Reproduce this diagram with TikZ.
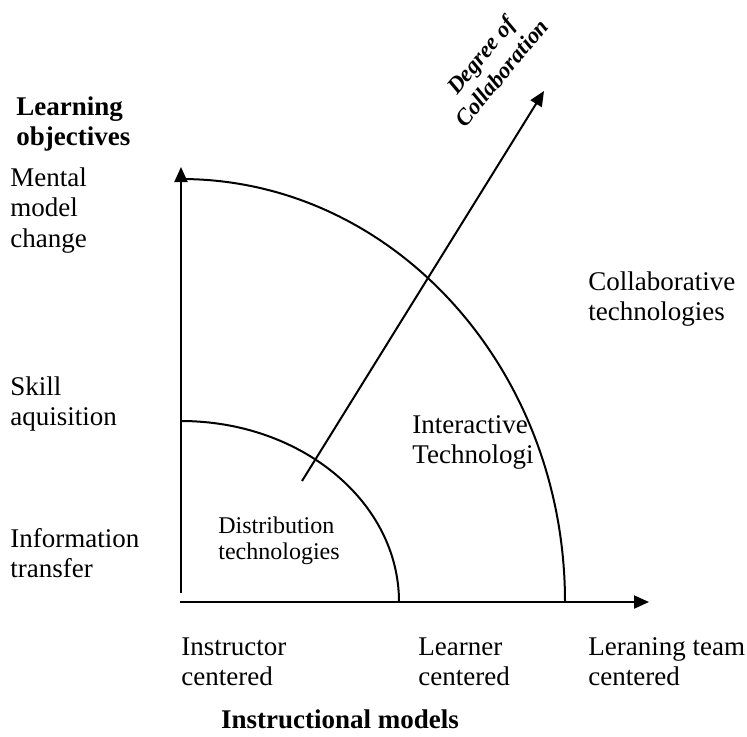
\documentclass[tikz,border=0pt]{standalone}
\usepackage{fontspec}
\setmainfont{Liberation Serif}
\usetikzlibrary{arrows.meta}

\begin{document}
\begin{tikzpicture}[x=0.5pt,y=-0.5pt,
    lbl/.style={anchor=north west,inner sep=0pt,align=left,
        font=\fontsize{13.5pt}{15.25pt}\selectfont},
    title/.style={lbl,font=\fontsize{13.5pt}{15.25pt}\selectfont\bfseries},
    axis/.style={line width=1pt,-{Triangle[length=7.5pt,width=6.5pt]}},
    zone/.style={line width=1pt}]
        \useasboundingbox (0,0) rectangle (747,736);

        % axes
        \coordinate (O) at (181,602);
        \coordinate (ybot) at (181,593);
        \coordinate (ytip) at (181,167);
        \coordinate (xbot) at (180,602);
        \coordinate (xtip) at (649,602);
        \draw[axis] (ybot) to (ytip);
        \draw[axis] (xbot) to (xtip);

        % technology zones
        \coordinate (inner) at (399,602);
        \coordinate (outer) at (565,602);
        \draw[zone] (inner) arc[start angle=0,end angle=90,x radius=109pt,y radius=90.5pt];
        \draw[zone] (outer) arc[start angle=0,end angle=90,x radius=192pt,y radius=211.5pt];

        % collaboration direction
        \coordinate (dbot) at (302,481);
        \coordinate (dtip) at (544,91);
        \draw[axis] (dbot) to (dtip);
        \node [inner sep=0pt,align=center,rotate=50,
            font=\fontsize{11.5pt}{13.5pt}\selectfont\bfseries\itshape] (degree) at (491,64) {Degree of\\Collaboration};

        % vertical axis
        \node [title] (objectives) at (16,96) {Learning\\objectives};
        \node [lbl] (mental) at (10,167) {Mental\\model\\change};
        \node [lbl] (skill) at (10,376) {Skill\\aquisition};
        \node [lbl] (info) at (10,528) {Information\\transfer};

        % horizontal axis
        \node [lbl] (instructor) at (181,637) {Instructor\\centered};
        \node [lbl] (learner) at (418,637) {Learner\\centered};
        \node [lbl] (team) at (588,637) {Leraning team\\centered};
        \node [title,anchor=north] (models) at (340,709) {Instructional models};

        % zone labels
        \node [lbl] (collab) at (588,271) {Collaborative\\technologies};
        \node [lbl] (interact) at (412,415) {Interactive\\Technologi};
        \node [lbl,font=\fontsize{12pt}{13pt}\selectfont] (distrib) at (218,516) {Distribution\\technologies};
\end{tikzpicture}
\end{document}
